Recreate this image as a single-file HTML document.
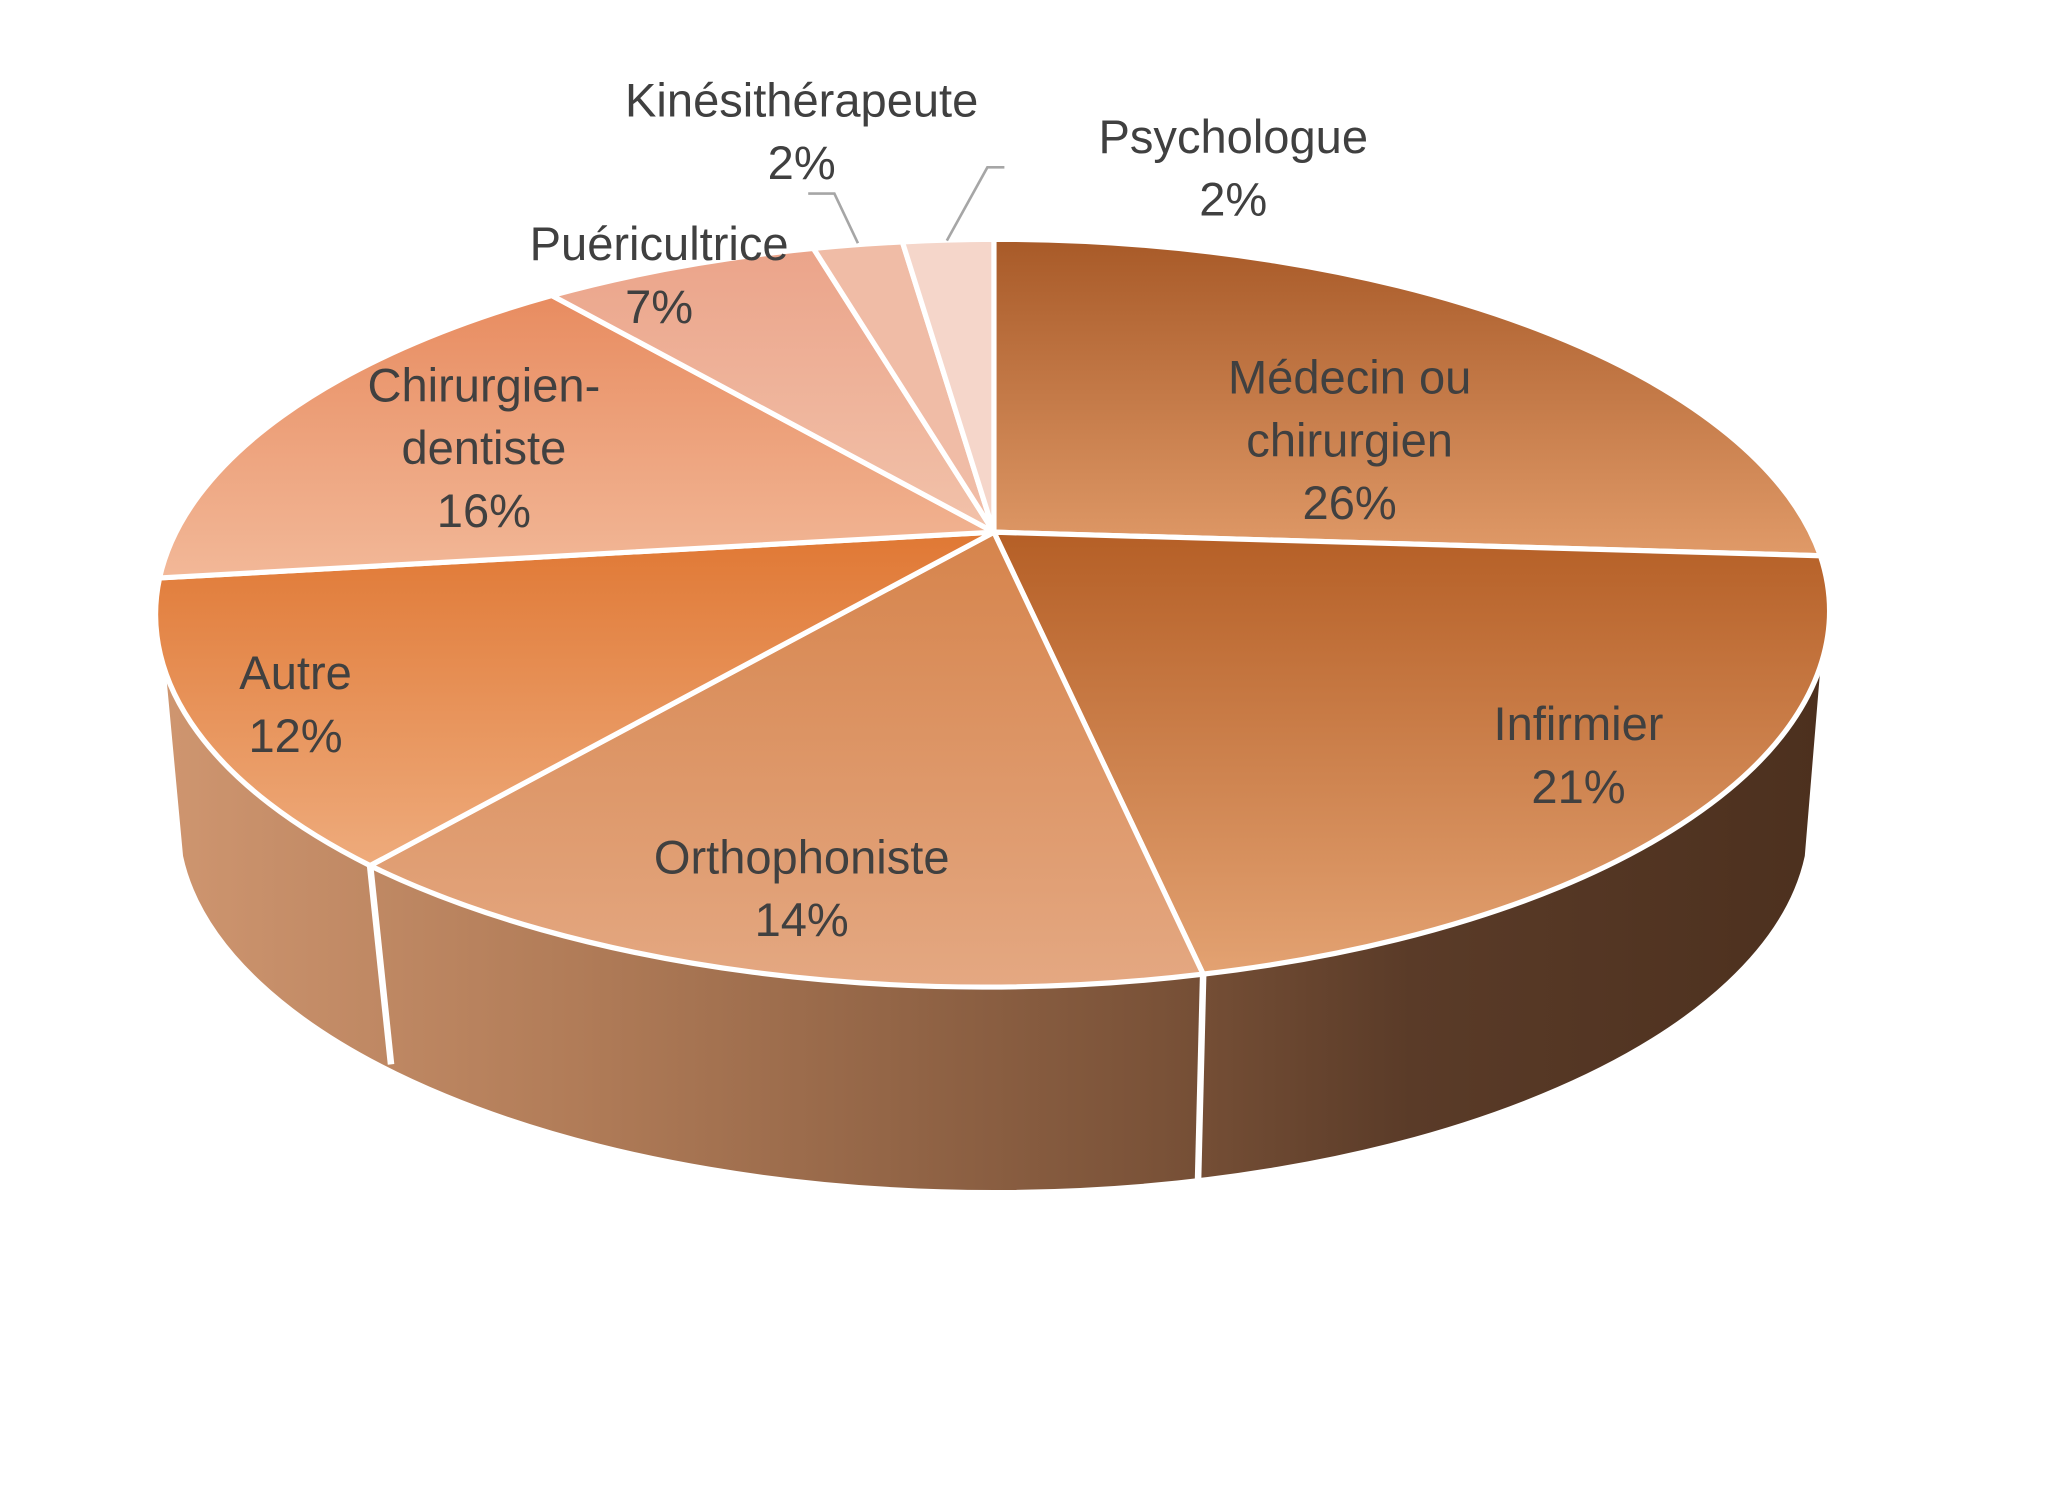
<!DOCTYPE html>
<html><head><meta charset="utf-8"><style>
html,body{margin:0;padding:0;background:#fff}
svg{display:block}
text{font-family:"Liberation Sans",sans-serif;font-size:36px;fill:#404040;text-anchor:middle}
</style></head><body>
<svg width="2048" height="1488" viewBox="0 0 1566 1138" preserveAspectRatio="none">
<defs>
<linearGradient id="side" x1="0" y1="0" x2="1" y2="0">
<stop offset="0" stop-color="#cf9670"/><stop offset="0.25" stop-color="#b17c58"/>
<stop offset="0.6" stop-color="#7a5238"/><stop offset="0.75" stop-color="#5a3b28"/><stop offset="1" stop-color="#4c301e"/></linearGradient>
<linearGradient id="g1" x1="0" y1="0" x2="0" y2="1"><stop offset="0" stop-color="#a85a28"/><stop offset="1" stop-color="#e09a68"/></linearGradient>
<linearGradient id="g2" x1="0" y1="0" x2="0" y2="1"><stop offset="0" stop-color="#b55f26"/><stop offset="1" stop-color="#e3a272"/></linearGradient>
<linearGradient id="g3" x1="0" y1="0" x2="0" y2="1"><stop offset="0" stop-color="#d6844c"/><stop offset="1" stop-color="#e4a882"/></linearGradient>
<linearGradient id="g4" x1="0" y1="0" x2="0" y2="1"><stop offset="0" stop-color="#e07834"/><stop offset="1" stop-color="#eeab7c"/></linearGradient>
<linearGradient id="g5" x1="0" y1="0" x2="0" y2="1"><stop offset="0" stop-color="#e88c60"/><stop offset="1" stop-color="#f2b898"/></linearGradient>
<linearGradient id="g6" x1="0" y1="0" x2="0" y2="1"><stop offset="0" stop-color="#eba48a"/><stop offset="1" stop-color="#f2c2aa"/></linearGradient>
</defs>
<path d="M120,462 A639 287 0 0 0 1398,462 L1382,655 A625 285 0 0 1 138,655 Z" fill="url(#side)" stroke="#fff" stroke-width="4"/>
<line x1="283" y1="662" x2="299" y2="814" stroke="#fff" stroke-width="5"/>
<line x1="920" y1="745" x2="916" y2="906" stroke="#fff" stroke-width="5"/>
<g stroke="#fff" stroke-width="4" stroke-linejoin="round">
<path d="M760,407 L760,183 A639 287 0 0 1 1392,425 Z" fill="url(#g1)"/>
<path d="M760,407 L1392,425 A639 287 0 0 1 920,745 Z" fill="url(#g2)"/>
<path d="M760,407 L920,745 A639 287 0 0 1 283,662 Z" fill="url(#g3)"/>
<path d="M760,407 L283,662 A639 287 0 0 1 122,442 Z" fill="url(#g4)"/>
<path d="M760,407 L122,442 A639 287 0 0 1 422,226 Z" fill="url(#g5)"/>
<path d="M760,407 L422,226 A639 287 0 0 1 622,190 Z" fill="url(#g6)"/>
<path d="M760,407 L622,190 A639 287 0 0 1 690,185 Z" fill="#f0bca6"/>
<path d="M760,407 L690,185 A639 287 0 0 1 760,183 Z" fill="#f5d6ca"/>
</g>
<polyline points="618,148 638,148 656,186" fill="none" stroke="#a6a6a6" stroke-width="2"/>
<polyline points="768,128 755,128 724,184" fill="none" stroke="#a6a6a6" stroke-width="2"/>
<text x="1032" y="301">Médecin ou</text><text x="1032" y="349">chirurgien</text><text x="1032" y="397">26%</text>
<text x="1207" y="566">Infirmier</text><text x="1207" y="614">21%</text>
<text x="613" y="668">Orthophoniste</text><text x="613" y="716">14%</text>
<text x="226" y="527">Autre</text><text x="226" y="575">12%</text>
<text x="370" y="307">Chirurgien-</text><text x="370" y="355">dentiste</text><text x="370" y="403">16%</text>
<text x="504" y="199">Puéricultrice</text><text x="504" y="247">7%</text>
<text x="613" y="89">Kinésithérapeute</text><text x="613" y="137">2%</text>
<text x="943" y="117">Psychologue</text><text x="943" y="165">2%</text>
</svg>
</body></html>
